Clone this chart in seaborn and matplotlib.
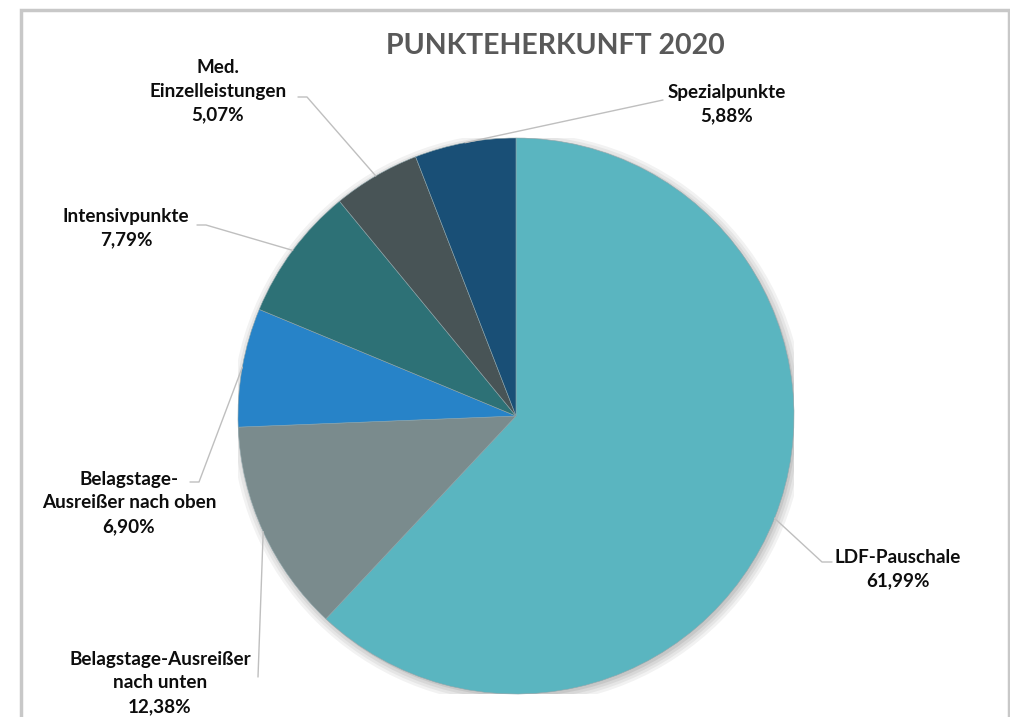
import matplotlib
matplotlib.use("Agg")
import matplotlib.pyplot as plt
import seaborn as sns
import numpy as np
from matplotlib.patches import Circle, Rectangle
from matplotlib.lines import Line2D

# Data (Excel order, clockwise from 12 o'clock)
categories = ["LDF-Pauschale", "Belagstage-Ausreißer\nnach unten", "Belagstage-\nAusreißer nach oben",
              "Intensivpunkte", "Med.\nEinzelleistungen", "Spezialpunkte"]
shares = [61.99, 12.38, 6.90, 7.79, 5.07, 5.88]
colors = ["#5ab5c0", "#7a8b8d", "#2783c8", "#2d7176", "#485456", "#194f76"]

# label placement in pixels (center of text block) and leader anchor / elbow
label_pos = [(898, 569), (160, 683), (129, 503), (126, 228), (218, 91), (727, 104)]
leader_end = [(832, 562), (258, 677), (190, 482), (197, 225), (298, 97), (663, 100)]
leader_elbow = [(822, 562), (258, 677), (199, 482), (206, 225), (307, 97), (663, 100)]

W, H = 1010, 717
sns.set_theme(style="white")
plt.rcParams["font.family"] = ["Lato", "DejaVu Sans"]

fig = plt.figure(figsize=(W / 100, H / 100), dpi=100)
fig.patch.set_facecolor("white")

# chart frame
fig.patches.append(Rectangle((21 / W, -0.05), (1009 - 21) / W, (H - 10) / H + 0.05,
                             transform=fig.transFigure, fill=False,
                             edgecolor="#c8c8c8", linewidth=2.5))

cx, cy, r = 516, 416, 278
ax = fig.add_axes([(cx - r) / W, (H - cy - r) / H, 2 * r / W, 2 * r / H])

# soft shadow behind the pie
for k, a in enumerate([0.05, 0.05, 0.06, 0.07]):
    ax.add_patch(Circle((0.008, -0.01), 1.03 - 0.01 * k, color="black", alpha=a, lw=0, zorder=0))

wedges, _ = ax.pie(shares, colors=colors, startangle=90, counterclock=False, radius=1,
                   wedgeprops=dict(linewidth=0.4, edgecolor="#8fa6ab"))
for w in wedges:
    w.set_zorder(2)
ax.set_xlim(-1, 1)
ax.set_ylim(-1, 1)
ax.set_aspect("equal")
ax.axis("off")

to_fig = lambda p: (p[0] / W, (H - p[1]) / H)

for w, cat, val, lp, le, lb in zip(wedges, categories, shares, label_pos, leader_end, leader_elbow):
    mid = np.deg2rad((w.theta1 + w.theta2) / 2)
    edge = ax.transData.transform((np.cos(mid), np.sin(mid)))
    ex, ey = fig.transFigure.inverted().transform(edge)
    bx, by = to_fig(lb)
    tx, ty = to_fig(le)
    fig.lines.append(Line2D([ex, bx, tx], [ey, by, ty], transform=fig.transFigure,
                            color="#bfbfbf", linewidth=1))
    txt = f"{cat}\n{val:.2f}%".replace(".", ",").replace("Med,", "Med.")
    fx, fy = to_fig(lp)
    fig.text(fx, fy, txt, ha="center", va="center", fontsize=13.6, fontweight="bold",
             color="#0d0d0d", linespacing=1.47)

fig.text(555 / W, (H - 46) / H, "PUNKTEHERKUNFT 2020", ha="center", va="center",
         fontsize=20.5, fontweight="bold", color="#595959")

fig.savefig("out.png", dpi=100)
